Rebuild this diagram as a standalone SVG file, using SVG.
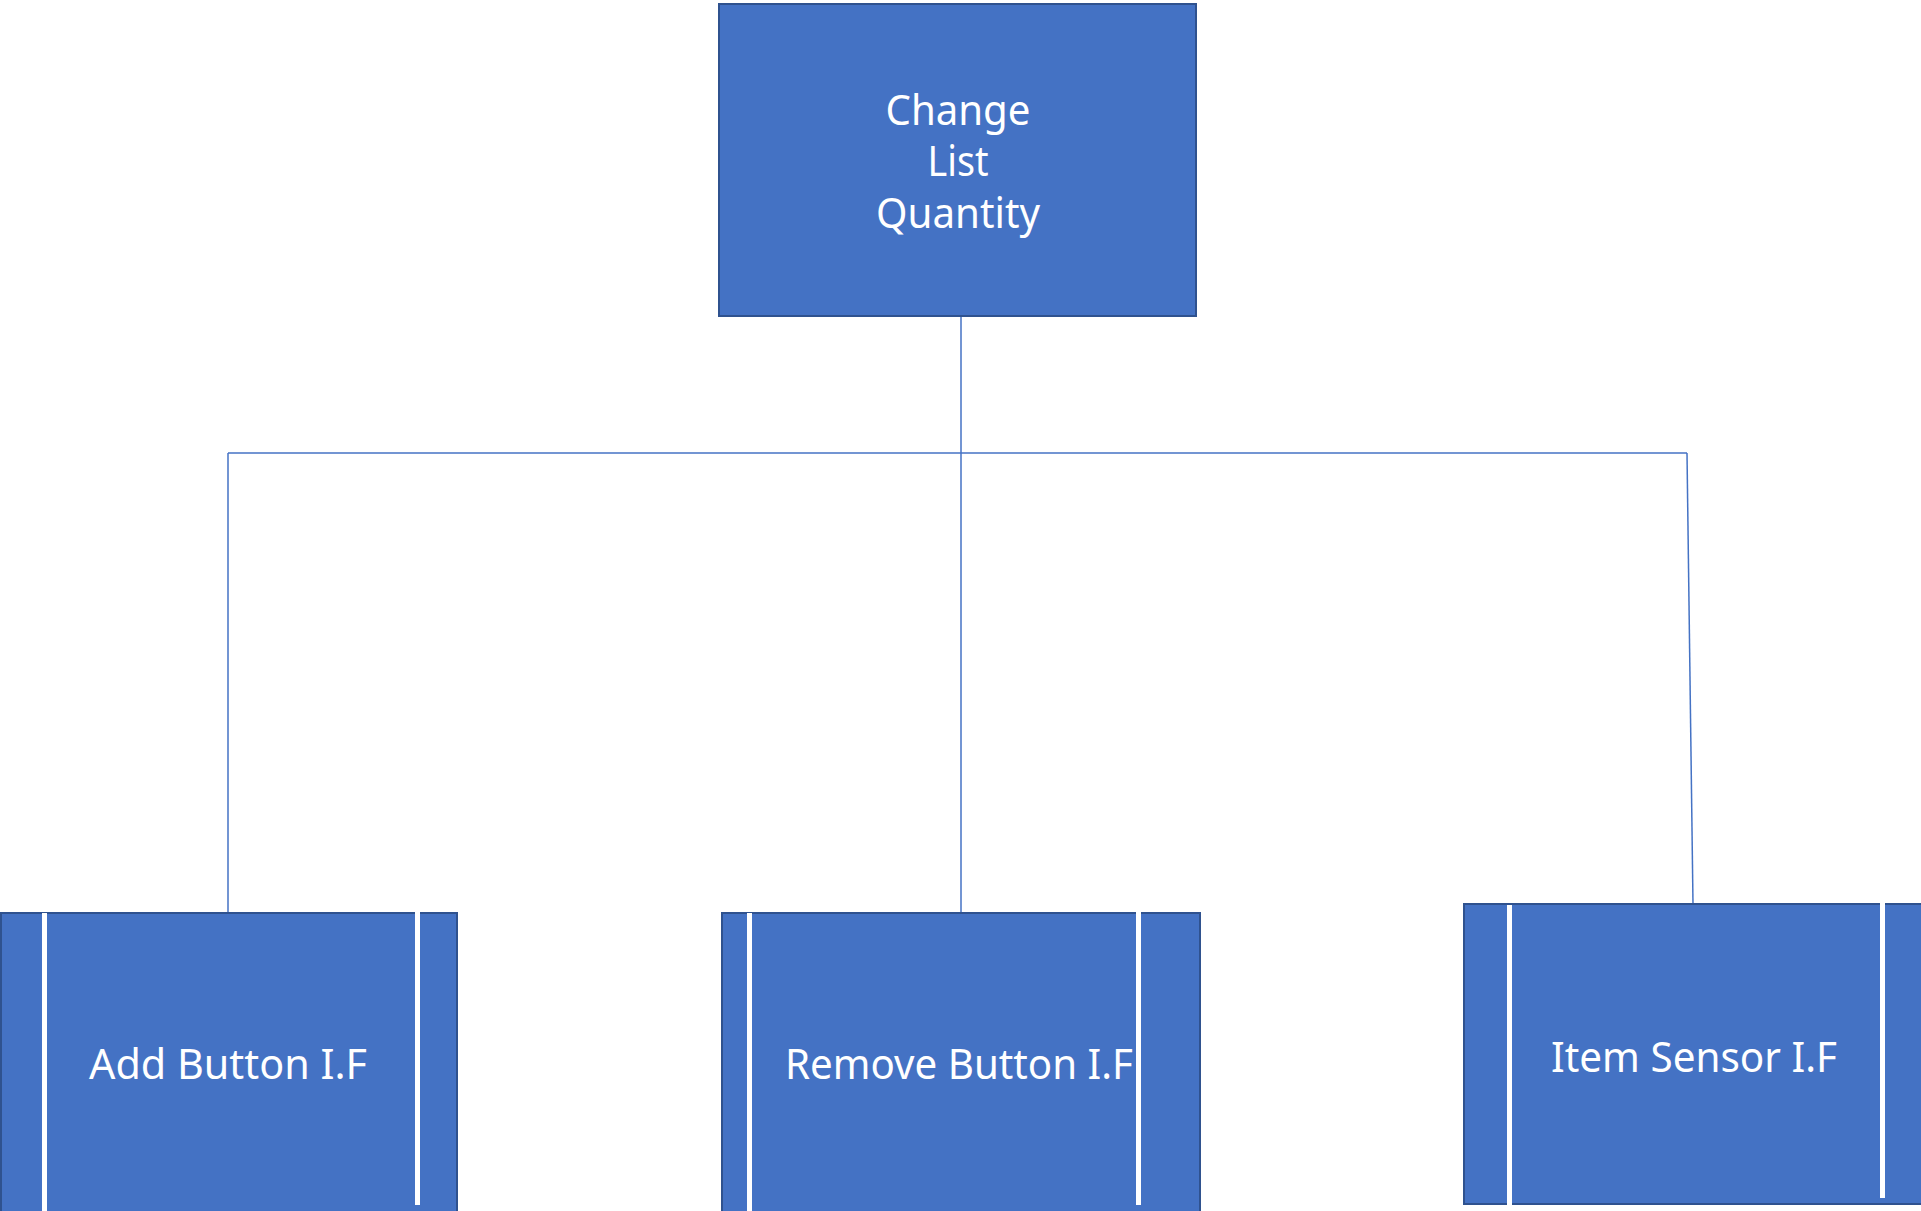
<svg xmlns="http://www.w3.org/2000/svg" width="1921" height="1211" viewBox="0 0 1921 1211">
<style>
.box{fill:#4472C4;stroke:#2F528F;stroke-width:2}
.bar{stroke:#FFFFFF;stroke-width:5;fill:none}
.lbl{fill:#FFFFFF;font-family:"Noto Sans","Open Sans","Liberation Sans",sans-serif;font-size:42px;text-anchor:middle}
.conn{stroke:#4472C4;stroke-width:1.5;fill:none}
</style>
<rect width="1921" height="1211" fill="#FFFFFF"/>
<g id="connectors">
<line class="conn" x1="961" y1="316" x2="961" y2="913"/>
<line class="conn" x1="228" y1="453" x2="1687" y2="453"/>
<line class="conn" x1="228" y1="453" x2="228" y2="913"/>
<line class="conn" x1="1687" y1="453" x2="1693" y2="904"/>
</g>
<g id="node-change-list-quantity">
<rect class="box" x="719" y="4" width="477" height="312"/>
<text class="lbl" x="958" y="125" textLength="145" lengthAdjust="spacingAndGlyphs">Change</text>
<text class="lbl" x="958" y="176" textLength="61" lengthAdjust="spacingAndGlyphs">List</text>
<text class="lbl" x="958" y="228" textLength="164" lengthAdjust="spacingAndGlyphs">Quantity</text>
</g>
<g id="node-add-button">
<rect class="box" x="1" y="913" width="456" height="310"/>
<line class="bar" x1="44.5" y1="913" x2="44.5" y2="1211"/>
<line class="bar" x1="417.5" y1="911" x2="417.5" y2="1205"/>
<text class="lbl" x="228" y="1079" textLength="278" lengthAdjust="spacingAndGlyphs">Add Button I.F</text>
</g>
<g id="node-remove-button">
<rect class="box" x="722" y="913" width="478" height="310"/>
<text class="lbl" x="959" y="1079" textLength="348" lengthAdjust="spacingAndGlyphs">Remove Button I.F</text>
<line class="bar" x1="749.5" y1="913" x2="749.5" y2="1211"/>
<line class="bar" x1="1138.5" y1="911" x2="1138.5" y2="1205"/>
</g>
<g id="node-item-sensor">
<rect class="box" x="1464" y="904" width="470" height="300"/>
<line class="bar" x1="1509.5" y1="905" x2="1509.5" y2="1206"/>
<line class="bar" x1="1882.5" y1="902" x2="1882.5" y2="1198"/>
<text class="lbl" x="1694" y="1072" textLength="286" lengthAdjust="spacingAndGlyphs">Item Sensor I.F</text>
</g>
</svg>
